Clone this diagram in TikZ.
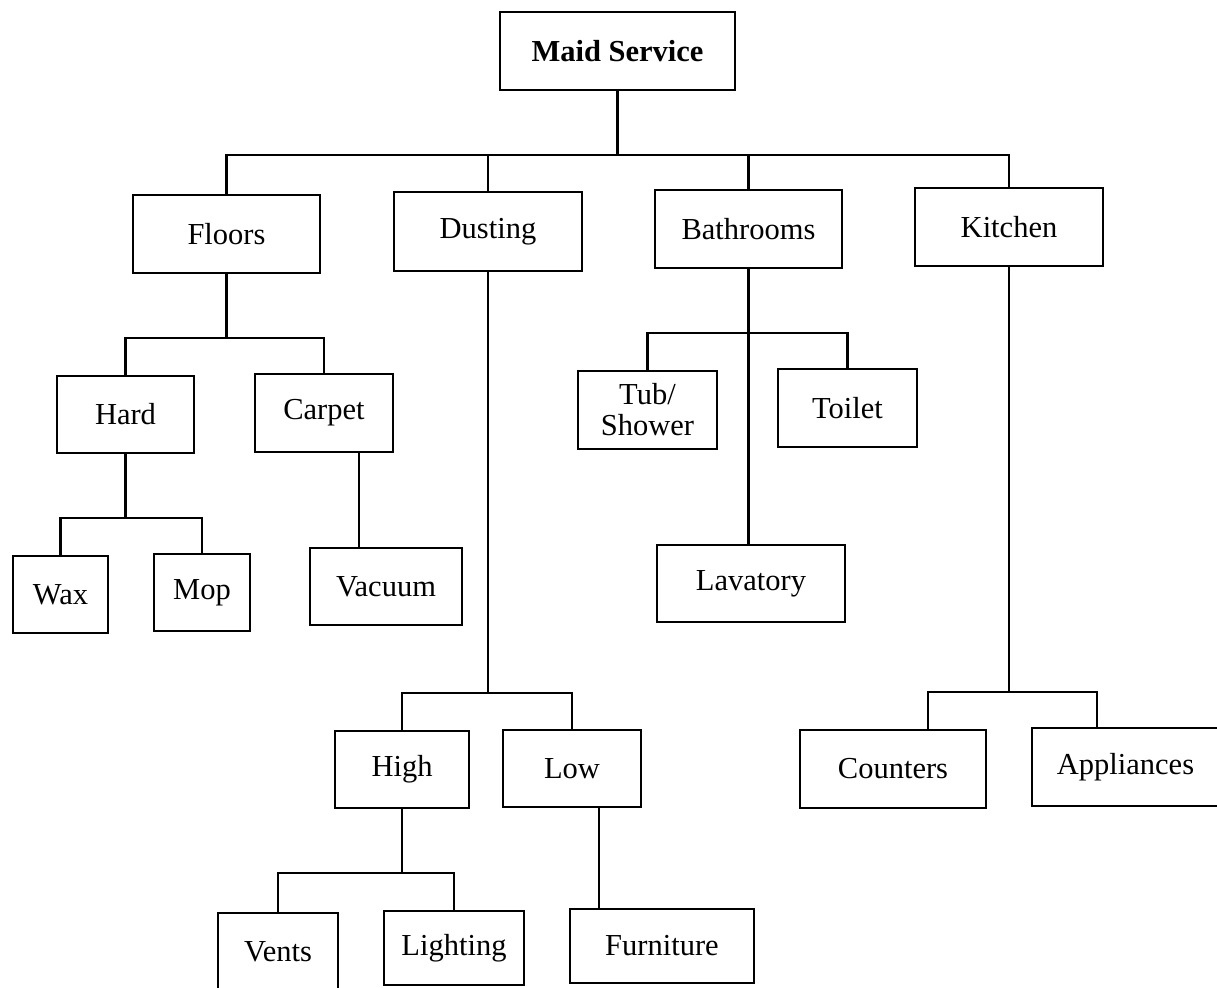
\documentclass[tikz,border=0pt]{standalone}
\usepackage{fontspec}
\setmainfont{Liberation Serif}

\begin{document}
\begin{tikzpicture}[x=0.5pt,y=-0.5pt,
  box/.style 2 args={draw,line width=1.4pt,inner sep=0pt,align=center,
    minimum width=#1*0.5pt,minimum height=#2*0.5pt,
    font=\fontsize{15.25}{15.5}\selectfont},
  link/.style={line width=1.4pt}]
\clip (0,0) rectangle (1217,987);
% boxes
\node[box={235}{78},font=\fontsize{15.25}{15.5}\selectfont\bfseries] (maid) at (617.5,51) {Maid Service};
\node[box={187}{78}] (floors) at (226.5,234) {Floors};
\node[box={188}{79}] (dusting) at (488,231.5) {Dusting};
\node[box={187}{78}] (bathrooms) at (748.5,229) {Bathrooms};
\node[box={188}{78}] (kitchen) at (1009,227) {Kitchen};
\node[box={137}{77}] (hard) at (125.5,414.5) {Hard};
\node[box={138}{78}] (carpet) at (324,413) {Carpet};
\node[box={95}{77}] (wax) at (60.5,594.5) {Wax};
\node[box={96}{77}] (mop) at (202,592.5) {Mop};
\node[box={152}{77}] (vacuum) at (386,586.5) {Vacuum};
\node[box={139}{78}] (tub) at (647.5,410) {Tub/\\Shower};
\node[box={139}{78}] (toilet) at (847.5,408) {Toilet};
\node[box={188}{77}] (lavatory) at (751,583.5) {Lavatory};
\node[box={134}{77}] (high) at (402,769.5) {High};
\node[box={138}{77}] (low) at (572,768.5) {Low};
\node[box={120}{77}] (vents) at (278,951.5) {Vents};
\node[box={140}{74}] (lighting) at (454,948) {Lighting};
\node[box={184}{74}] (furniture) at (662,946) {Furniture};
\node[box={186}{78}] (counters) at (893,769) {Counters};
\node[box={187}{78}] (appliances) at (1125.5,767) {Appliances};
% junctions
\coordinate (top) at (617.5,155);
\coordinate (fl) at (226.5,338);
\coordinate (hd) at (125.5,518);
\coordinate (cp) at (359,0);
\coordinate (du) at (488,693);
\coordinate (hi) at (402,873);
\coordinate (lw) at (599,0);
\coordinate (ba) at (748.5,333);
\coordinate (ki) at (1009,692);
\coordinate (ct) at (928,0);
\coordinate (ap) at (1097,0);
% links
\draw[link] (maid) -- (top);
\draw[link] (floors) |- (top) -| (kitchen);
\foreach \n in {dusting,bathrooms}
  \draw[link] (\n) -- (\n |- top);
\foreach \p/\j/\a/\b in {floors/fl/hard/carpet,hard/hd/wax/mop,dusting/du/high/low,high/hi/vents/lighting}{
  \draw[link] (\p) -- (\j);
  \draw[link] (\a) |- (\j) -| (\b);
}
\draw[link] (carpet.south -| cp) -- (vacuum.north -| cp);
\draw[link] (low.south -| lw) -- (furniture.north -| lw);
\draw[link] (bathrooms) -- (bathrooms |- lavatory.north);
\draw[link] (tub) |- (ba) -| (toilet);
\draw[link] (kitchen) -- (ki);
\draw[link] (counters.north -| ct) |- (ki) -| (appliances.north -| ap);
\end{tikzpicture}
\end{document}
